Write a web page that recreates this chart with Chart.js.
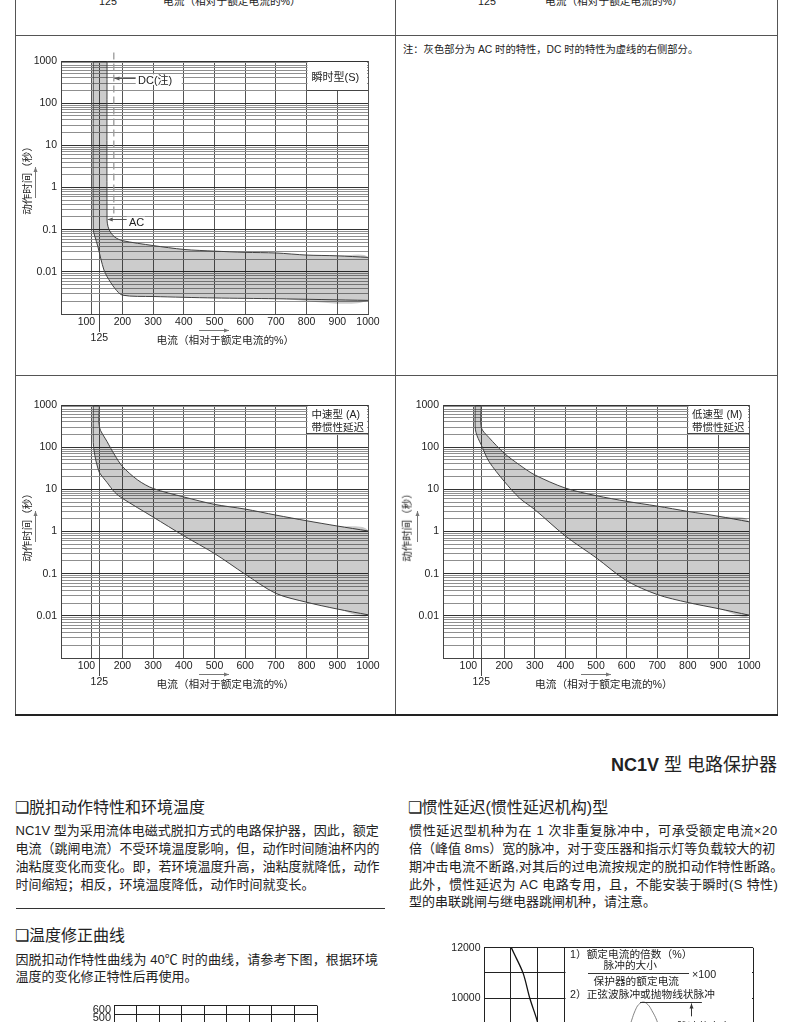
<!DOCTYPE html>
<html>
<head>
<meta charset="utf-8">
<script src="https://cdn.jsdelivr.net/npm/chart.js@4.4.1/dist/chart.umd.min.js"></script>
<style>
html,body{margin:0;padding:0;background:#fff}
body{position:relative;width:790px;height:1022px;overflow:hidden;font-family:"Liberation Sans","Noto Sans CJK SC",sans-serif;color:#222}
canvas{position:absolute}
.t{position:absolute;white-space:nowrap;line-height:1;transform:translateY(-50%)}
.ln{position:absolute;background:#555}
.yt{position:absolute;white-space:nowrap;line-height:1;font-size:10.5px;transform:translate(-50%,-50%) rotate(-90deg)}
.s11{font-size:10.7px}
.h{font-size:16px}
.b{font-size:13px}
</style>
</head>
<body>

<!-- table frame -->
<div class="ln" style="left:15px;top:0;width:1px;height:715px"></div>
<div class="ln" style="left:395px;top:0;width:1px;height:715px"></div>
<div class="ln" style="left:777px;top:0;width:1px;height:715px"></div>
<div class="ln" style="left:15px;top:35px;width:763px;height:1.3px"></div>
<div class="ln" style="left:15px;top:375px;width:763px;height:1.3px"></div>
<div class="ln" style="left:15px;top:714px;width:763px;height:2px;background:#222"></div>

<!-- remnants of the row above -->
<div class="t s11" style="left:99px;top:1px">125</div>
<div class="t s11" style="left:163px;top:1px">电流（相对于额定电流的%）</div>
<div class="t s11" style="left:478px;top:1px">125</div>
<div class="t s11" style="left:545px;top:1px">电流（相对于额定电流的%）</div>

<canvas id="c1" width="378" height="338" style="left:16px;top:36px"></canvas>
<canvas id="c3" width="378" height="337" style="left:16px;top:376px"></canvas>
<canvas id="c4" width="380" height="337" style="left:396px;top:376px"></canvas>
<canvas id="cT" width="300" height="70" style="left:60px;top:996px"></canvas>
<canvas id="cP" width="330" height="120" style="left:436px;top:938px"></canvas>

<!-- cell 1 texts -->
<div class="t" style="left:138px;top:80px;font-size:11px">DC(注)</div>
<div class="t" style="left:129px;top:222px;font-size:11px">AC</div>
<div class="t" style="left:311.5px;top:77px;font-size:11px">瞬时型(S)</div>
<div class="yt" style="left:27px;top:178px">动作时间（秒）</div>
<div class="t s11" style="left:156.5px;top:340px">电流（相对于额定电流的%）</div>

<!-- cell 2 note -->
<div class="t" style="left:403px;top:50px;font-size:10.3px">注：灰色部分为 AC 时的特性，DC 时的特性为虚线的右侧部分。</div>

<!-- cell 3 texts -->
<div class="t" style="left:311.5px;top:413.5px;font-size:10.5px">中速型 (A)</div>
<div class="t" style="left:311.5px;top:427px;font-size:10.5px">带惯性延迟</div>
<div class="yt" style="left:27px;top:525px">动作时间（秒）</div>
<div class="t s11" style="left:156.5px;top:684px">电流（相对于额定电流的%）</div>

<!-- cell 4 texts -->
<div class="t" style="left:692px;top:413.5px;font-size:10.5px">低速型 (M)</div>
<div class="t" style="left:692px;top:427px;font-size:10.5px">带惯性延迟</div>
<div class="yt" style="left:407px;top:525px">动作时间（秒）</div>
<div class="t s11" style="left:535px;top:684px">电流（相对于额定电流的%）</div>

<!-- lower page -->
<div class="t" style="right:13px;top:765px;font-size:18px"><b>NC1V</b> 型 电路保护器</div>

<div class="t h" style="left:15px;top:808px">❑脱扣动作特性和环境温度</div>
<div class="t b" style="left:15.5px;top:829.5px">NC1V 型为采用流体电磁式脱扣方式的电路保护器，因此，额定</div>
<div class="t b" style="left:15.5px;top:847.5px">电流（跳闸电流）不受环境温度影响，但，动作时间随油杯内的</div>
<div class="t b" style="left:15.5px;top:865.5px">油粘度变化而变化。即，若环境温度升高，油粘度就降低，动作</div>
<div class="t b" style="left:15.5px;top:883.5px">时间缩短；相反，环境温度降低，动作时间就变长。</div>

<div class="ln" style="left:16px;top:907.5px;width:369px;height:1px;background:#333"></div>
<div class="t h" style="left:15px;top:936px">❑温度修正曲线</div>
<div class="t b" style="left:15.5px;top:959px;letter-spacing:0.1px">因脱扣动作特性曲线为 40℃ 时的曲线，请参考下图，根据环境</div>
<div class="t b" style="left:15.5px;top:976px">温度的变化修正特性后再使用。</div>

<div class="t h" style="left:407.5px;top:808px">❑惯性延迟(惯性延迟机构)型</div>
<div class="t b" style="left:409px;top:829.5px;letter-spacing:0.68px">惯性延迟型机种为在 1 次非重复脉冲中，可承受额定电流×20</div>
<div class="t b" style="left:409px;top:847.5px">倍（峰值 8ms）宽的脉冲，对于变压器和指示灯等负载较大的初</div>
<div class="t b" style="left:409px;top:865.5px;letter-spacing:0.24px">期冲击电流不断路,对其后的过电流按规定的脱扣动作特性断路。</div>
<div class="t b" style="left:409px;top:883.5px;letter-spacing:0.34px">此外，惯性延迟为 AC 电路专用，且，不能安装于瞬时(S 特性)</div>
<div class="t b" style="left:409px;top:900.5px">型的串联跳闸与继电器跳闸机种，请注意。</div>

<!-- pulse chart legend box -->
<div class="t s11" style="left:570px;top:953.5px">1）额定电流的倍数（%）</div>
<div class="t s11" style="left:603.5px;top:965px">脉冲的大小</div>
<div class="ln" style="left:588px;top:972.5px;width:101px;height:1px;background:#333"></div>
<div class="t s11" style="left:692px;top:973.5px">×100</div>
<div class="t s11" style="left:593.5px;top:980.5px">保护器的额定电流</div>
<div class="t s11" style="left:570px;top:993.5px">2）正弦波脉冲或抛物线状脉冲</div>
<div class="t s11" style="left:677px;top:1026px">脉冲的大小</div>

<script>
// shared axes
const xTicks = [0, 100, 125, 200, 300, 400, 500, 600, 700, 800, 900, 1000];
const yDecades = [0.001, 0.01, 0.1, 1, 10, 100, 1000];
const yLabels = [1000, 100, 10, 1, 0.1, 0.01];

// 瞬时型 (S)
const sUpperX = [150, 150, 153, 160, 176, 200, 300, 400, 500, 600, 700, 800, 900, 1000];
const sUpperY = [1000, 0.17, 0.12, 0.09, 0.066, 0.055, 0.042, 0.034, 0.031, 0.029, 0.028, 0.025, 0.024, 0.022];
const sLowerX = [105, 105, 110, 120, 130, 140, 150, 176, 200, 300, 500, 700, 1000];
const sLowerY = [1000, 0.1, 0.07, 0.04, 0.02, 0.011, 0.0077, 0.004, 0.0028, 0.0026, 0.0024, 0.0023, 0.0021];
const dcX = [172, 172];
const dcY = [1600, 0.2];

// 中速型 (A)
const aUpperX = [125, 125, 150, 175, 200, 250, 300, 400, 500, 600, 700, 800, 900, 1000];
const aUpperY = [1000, 300, 136, 65, 35, 16.6, 10.5, 6.6, 4.4, 3.4, 2.45, 1.8, 1.35, 1.03];
const aLowerX = [105, 105, 108, 113, 120, 125, 150, 175, 200, 300, 400, 500, 600, 700, 800, 900, 1000];
const aLowerY = [1000, 130, 80, 50, 32, 25, 14.5, 8.5, 6.1, 2.2, 0.79, 0.3, 0.097, 0.034, 0.021, 0.0145, 0.0106];

// 低速型 (M)
const mUpperX = [125, 125, 150, 200, 250, 300, 400, 500, 600, 700, 800, 900, 1000];
const mUpperY = [1000, 292, 170, 72, 38, 22, 10.7, 7.1, 5.2, 4.0, 3.0, 2.3, 1.7];
const mLowerX = [105, 105, 108, 115, 125, 150, 200, 250, 300, 400, 500, 600, 700, 800, 900, 1000];
const mLowerY = [1000, 300, 220, 160, 113, 46, 15.5, 6.2, 3.3, 0.78, 0.24, 0.068, 0.032, 0.0207, 0.0148, 0.0104];

// 温度修正曲线 (grid only, rest of chart is below the page)
const tempTicksX = [0, 1, 2, 3, 4, 5, 6, 7, 8, 9];
const tempTicksY = [0, 100, 200, 300, 400, 500, 600];
const tempLabelsY = [600, 500];

// 惯性延迟 pulse chart
const pulseTicksX = [0, 1, 2, 3, 10];
const pulseTicksY = [8000, 9000, 10000, 11000, 12000];
const pulseLabelsY = [10000, 12000];
const ratingX = [0.9, 1.02, 1.45, 1.70, 1.95, 2.05];
const ratingY = [12400, 12000, 11000, 10000, 9190, 8800];
const pulseShapeX = [5.40, 5.49, 5.62, 5.75, 5.92, 6.09, 6.24, 6.42, 6.50];
const pulseShapeY = [8800, 9116, 9500, 9740, 9840, 9740, 9500, 9116, 8800];

const yGrid = [];
yDecades.slice(0, -1).forEach(d => {
  for (let m = 1; m < 10; m++) yGrid.push(+(m * d).toPrecision(2));
});
yGrid.push(1000);

const font = {family: "'Liberation Sans', Arial, sans-serif", size: 10.5};

function pts(xs, ys) { return xs.map((x, i) => ({x, y: ys[i]})); }
function isDecade(v) { const l = Math.log10(v); return Math.abs(l - Math.round(l)) < 1e-6; }
function align(p) { return Math.round(p - 0.5) + 0.5; }

function arrowLine(ctx, x0, y0, x1, y1) {
  ctx.beginPath(); ctx.moveTo(x0, y0); ctx.lineTo(x1, y1); ctx.stroke();
  const a = Math.atan2(y1 - y0, x1 - x0), L = 5, W = 2;
  ctx.beginPath();
  ctx.moveTo(x1, y1);
  ctx.lineTo(x1 - L * Math.cos(a) + W * Math.sin(a), y1 - L * Math.sin(a) - W * Math.cos(a));
  ctx.lineTo(x1 - L * Math.cos(a) - W * Math.sin(a), y1 - L * Math.sin(a) + W * Math.cos(a));
  ctx.closePath(); ctx.fill();
}

const decor = {
  id: 'decor',
  beforeDatasetsDraw(chart, args, o) {
    const {ctx, chartArea: a, scales: {x}} = chart;
    const ox = chart.canvas.offsetLeft, oy = chart.canvas.offsetTop;
    ctx.save();
    ctx.fillStyle = '#fff';
    (o.boxes || []).forEach(b => ctx.fillRect(b[0] - ox, b[1] - oy, b[2], b[3]));
    if (o.typeBox) {
      const l = align(x.getPixelForValue(800));
      ctx.fillRect(l + 1, a.top + 1, a.right - l - 2, o.typeBox);
      ctx.strokeStyle = '#444'; ctx.lineWidth = 1;
      ctx.beginPath();
      ctx.moveTo(l, Math.round(a.top + o.typeBox) + 0.5);
      ctx.lineTo(a.right, Math.round(a.top + o.typeBox) + 0.5);
      ctx.stroke();
    }
    ctx.restore();
  },
  afterDraw(chart, args, o) {
    const {ctx, chartArea: a, scales: {x, y}} = chart;
    ctx.save();
    ctx.strokeStyle = '#444'; ctx.fillStyle = '#444'; ctx.lineWidth = 1;
    const p = align(x.getPixelForValue(125));
    ctx.beginPath(); ctx.moveTo(p, a.bottom); ctx.lineTo(p, a.bottom + 18); ctx.stroke();
    ctx.strokeStyle = '#777'; ctx.fillStyle = '#777';
    arrowLine(ctx, a.left - 25.5, a.top + 137, a.left - 25.5, a.top + 106);
    arrowLine(ctx, a.left + 138, a.bottom + 16.5, a.left + 168, a.bottom + 16.5);
    ctx.strokeStyle = '#555'; ctx.fillStyle = '#555';
    (o.leaders || []).forEach(l => {
      const yy = Math.round(y.getPixelForValue(l[2])) + 0.5;
      arrowLine(ctx, x.getPixelForValue(l[0]), yy, x.getPixelForValue(l[1]), yy);
    });
    ctx.restore();
  }
};

function band(ux, uy, lx, ly) {
  const up = pts(ux, uy), lo = pts(lx, ly);
  const edge = {fill: false, borderColor: '#4a4a4a', borderWidth: 1, tension: 0.3, pointRadius: 0};
  return [
    {data: up.concat(lo.slice().reverse()), fill: 'shape', backgroundColor: 'rgba(0,0,0,0.2)',
     borderColor: 'rgba(0,0,0,0)', borderWidth: 0, tension: 0.3, pointRadius: 0},
    Object.assign({data: up}, edge),
    Object.assign({data: lo}, edge)
  ];
}

function xLabel(v) {
  if (v === 0) return '';
  if (v === 125) return ['', '125'];
  if (v === 100) return '100\u2002\u2002';   // printed a little left of its line
  return String(v);
}

function curveChart(id, datasets, g, decorOpts) {
  return new Chart(document.getElementById(id), {
    type: 'line',
    data: {datasets},
    options: {
      responsive: false, animation: false, devicePixelRatio: 1,
      layout: {padding: {top: g.top, right: g.right, left: 0, bottom: 0}},
      plugins: {legend: {display: false}, tooltip: {enabled: false}, decor: decorOpts},
      scales: {
        x: {
          type: 'linear', min: 0, max: 1000,
          afterBuildTicks: s => { s.ticks = xTicks.map(v => ({value: v})); },
          afterFit: s => { s.height = g.xh; },
          grid: {color: '#555', drawTicks: false},
          border: {color: '#444'},
          ticks: {autoSkip: false, maxRotation: 0, padding: 0, color: '#222',
                  font: Object.assign({lineHeight: 1.5}, font), callback: xLabel}
        },
        y: {
          type: 'logarithmic', min: 0.001, max: 1000,
          afterBuildTicks: s => { s.ticks = yGrid.map(v => ({value: v})); },
          afterFit: s => { s.width = g.yw; },
          grid: {drawTicks: false, color: c => (c.tick && isDecade(c.tick.value)) ? '#333' : '#8f8f8f'},
          border: {color: '#444'},
          ticks: {autoSkip: false, padding: 4, color: '#222', font,
                  callback: v => yLabels.includes(v) ? String(v) : ''}
        }
      }
    },
    plugins: [decor]
  });
}

// 瞬时型 (S)
curveChart('c1', band(sUpperX, sUpperY, sLowerX, sLowerY).concat([{
  data: pts(dcX, dcY), borderColor: '#999', borderWidth: 1.3, borderDash: [7, 4],
  pointRadius: 0, fill: false, clip: false
}]), {top: 25, right: 26, yw: 45, xh: 60}, {
  typeBox: 29,
  boxes: [[135.7, 74.3, 46, 10.7], [126.7, 216.7, 18.3, 10]],
  leaders: [[243, 174, 390], [214, 152, 0.178]]
});

// 中速型 (A)
curveChart('c3', band(aUpperX, aUpperY, aLowerX, aLowerY),
  {top: 29, right: 26, yw: 45, xh: 55}, {typeBox: 28.3});

// 低速型 (M)
curveChart('c4', band(mUpperX, mUpperY, mLowerX, mLowerY),
  {top: 29, right: 27, yw: 47, xh: 55}, {typeBox: 28.3});

// 温度修正曲线
new Chart(document.getElementById('cT'), {
  type: 'line',
  data: {datasets: []},
  options: {
    responsive: false, animation: false, devicePixelRatio: 1,
    layout: {padding: {top: 6, right: 43, left: 0, bottom: 0}},
    plugins: {legend: {display: false}, tooltip: {enabled: false}},
    scales: {
      x: {type: 'linear', min: 0, max: 9,
          afterBuildTicks: s => { s.ticks = tempTicksX.map(v => ({value: v})); },
          afterFit: s => { s.height = 8; },
          grid: {color: '#222', drawTicks: false}, border: {color: '#222'}, ticks: {display: false}},
      y: {type: 'linear', min: 0, max: 600,
          afterBuildTicks: s => { s.ticks = tempTicksY.map(v => ({value: v})); },
          afterFit: s => { s.width = 54; },
          grid: {color: '#222', drawTicks: false}, border: {color: '#222'},
          ticks: {autoSkip: false, padding: 3, color: '#222', labelOffset: 4,
                  font: {family: font.family, size: 11},
                  callback: v => tempLabelsY.includes(v) ? String(v) : ''}}
    }
  }
});

// 惯性延迟 pulse chart
const pulseDecor = {
  id: 'pulseDecor',
  beforeDatasetsDraw(chart) {
    const {ctx, chartArea: a, scales: {x}} = chart;
    const l = align(x.getPixelForValue(3));
    ctx.save();
    ctx.fillStyle = '#fff';
    ctx.fillRect(l + 1, a.top + 1, a.right - l - 2, a.bottom - a.top);
    ctx.restore();
  },
  afterDraw(chart) {
    const {ctx, scales: {x, y}} = chart;
    ctx.save();
    ctx.strokeStyle = '#333'; ctx.fillStyle = '#333'; ctx.lineWidth = 1;
    const py = Math.round(y.getPixelForValue(9840)) + 0.5;
    ctx.beginPath(); ctx.moveTo(x.getPixelForValue(5.8), py); ctx.lineTo(x.getPixelForValue(8.1), py); ctx.stroke();
    const ax = align(x.getPixelForValue(7.73));
    arrowLine(ctx, ax, y.getPixelForValue(9270), ax, py + 1);
    ctx.restore();
  }
};

new Chart(document.getElementById('cP'), {
  type: 'line',
  data: {datasets: [
    {data: pts(ratingX, ratingY), borderColor: '#111', borderWidth: 1.3, tension: 0.3, pointRadius: 0, fill: false},
    {data: pts(pulseShapeX, pulseShapeY), borderColor: '#666', borderWidth: 0.8, tension: 0.4, pointRadius: 0, fill: false}
  ]},
  options: {
    responsive: false, animation: false, devicePixelRatio: 1,
    layout: {padding: {top: 7, right: 13, left: 0, bottom: 0}},
    plugins: {legend: {display: false}, tooltip: {enabled: false}},
    scales: {
      x: {type: 'linear', min: 0, max: 10,
          afterBuildTicks: s => { s.ticks = pulseTicksX.map(v => ({value: v})); },
          afterFit: s => { s.height = 6; },
          grid: {color: '#222', drawTicks: false}, border: {color: '#222'}, ticks: {display: false}},
      y: {type: 'linear', min: 8000, max: 12000,
          afterBuildTicks: s => { s.ticks = pulseTicksY.map(v => ({value: v})); },
          afterFit: s => { s.width = 48; },
          grid: {color: '#222', drawTicks: false}, border: {color: '#222'},
          ticks: {autoSkip: false, padding: 3.5, color: '#222', font,
                  callback: v => pulseLabelsY.includes(v) ? String(v) : ''}}
    }
  },
  plugins: [pulseDecor]
});
</script>
</body>
</html>
